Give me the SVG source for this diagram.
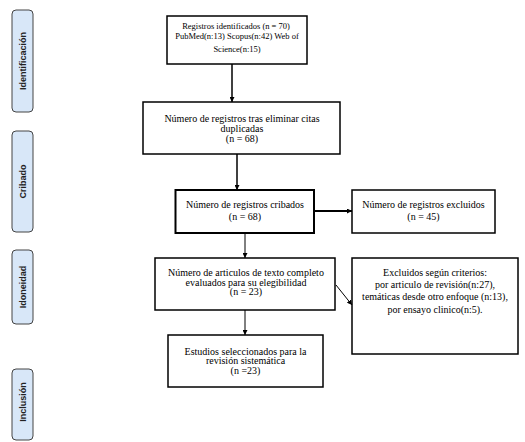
<svg xmlns="http://www.w3.org/2000/svg" width="525" height="442" viewBox="0 0 525 442">
<defs>
<style>
.side rect{fill:#d8e7f8;stroke:#444;stroke-width:1}
.side text{font-family:"Liberation Sans",Arial,sans-serif;font-weight:bold;font-size:9px;fill:#222;text-anchor:middle;dominant-baseline:central}
.box rect{fill:#fff;stroke:#000;stroke-width:1.5}
.box text{font-family:"Liberation Serif","Times New Roman",serif;font-size:10px;fill:#000;text-anchor:middle}
.conn line{stroke:#000;fill:none}
</style>
<marker id="ah" viewBox="0 0 10 10" refX="10" refY="5" markerWidth="5" markerHeight="5" markerUnits="userSpaceOnUse" orient="auto">
<path d="M0,0 L10,5 L0,10 z" fill="#000"/>
</marker>
</defs>
<rect width="525" height="442" fill="#fff"/>

<g id="side-identificacion" class="side"><rect x="12" y="10" width="21" height="102" rx="4"/><text transform="translate(22.5,61) rotate(-90)">Identificación</text></g>
<g id="side-cribado" class="side"><rect x="12" y="131" width="21" height="101" rx="4"/><text transform="translate(22.5,181.5) rotate(-90)">Cribado</text></g>
<g id="side-idoneidad" class="side"><rect x="12" y="250" width="21" height="74" rx="4"/><text transform="translate(22.5,287) rotate(-90)">Idoneidad</text></g>
<g id="side-inclusion" class="side"><rect x="12" y="369" width="21" height="71" rx="4"/><text transform="translate(22.5,402) rotate(-90)">Inclusión</text></g>

<g id="n1" class="box"><rect x="167" y="16" width="140" height="48"/>
<text x="236" y="28.5" style="font-size:8.5px">Registros identificados (n = 70)</text>
<text x="237" y="38.5" style="font-size:8.5px">PubMed(n:13) Scopus(n:42) Web of</text>
<text x="237" y="52" style="font-size:8.5px">Science(n:15)</text></g>

<g id="n2" class="box"><rect x="143" y="102" width="197" height="52"/>
<text x="242" y="121.5">Número de registros tras eliminar citas</text>
<text x="242" y="131.5">duplicadas</text>
<text x="242" y="141.5">(n = 68)</text></g>

<g id="n3" class="box"><rect x="175.5" y="190" width="138.5" height="43" style="stroke-width:2"/>
<text x="245" y="207.5">Número de registros cribados</text>
<text x="245" y="220">(n = 68)</text></g>

<g id="n4" class="box"><rect x="352" y="190" width="143" height="43"/>
<text x="423.5" y="207.5">Número de registros excluidos</text>
<text x="423.5" y="220">(n = 45)</text></g>

<g id="n5" class="box"><rect x="155" y="258" width="180" height="52"/>
<text x="246" y="275.5">Número de articulos de texto completo</text>
<text x="246" y="285.5">evaluados para su elegibilidad</text>
<text x="246" y="295">(n = 23)</text></g>

<g id="n6" class="box"><rect x="352" y="258" width="166" height="96"/>
<text x="435" y="275.5">Excluidos según criterios:</text>
<text x="435" y="287.5">por articulo de revisión(n:27),</text>
<text x="435" y="300">temáticas desde otro enfoque (n:13),</text>
<text x="435" y="312.5">por ensayo clinico(n:5).</text></g>

<g id="n7" class="box"><rect x="168" y="335" width="155" height="52"/>
<text x="245.5" y="354.5">Estudios seleccionados para la</text>
<text x="245.5" y="364">revisión sistemática</text>
<text x="245.5" y="373.5">(n =23)</text></g>

<g id="connectors" class="conn">
<line x1="232" y1="64" x2="232" y2="102" stroke-width="1.5" marker-end="url(#ah)"/>
<line x1="237" y1="154" x2="237" y2="190" stroke-width="1.5" marker-end="url(#ah)"/>
<line x1="314" y1="211" x2="352" y2="211" stroke-width="1.8" marker-end="url(#ah)"/>
<line x1="245" y1="233" x2="245" y2="258" stroke-width="1" marker-end="url(#ah)"/>
<line x1="245" y1="310" x2="245" y2="335" stroke-width="1" marker-end="url(#ah)"/>
<line x1="336" y1="285" x2="352" y2="305" stroke-width="1" marker-end="url(#ah)"/>
</g>
</svg>
